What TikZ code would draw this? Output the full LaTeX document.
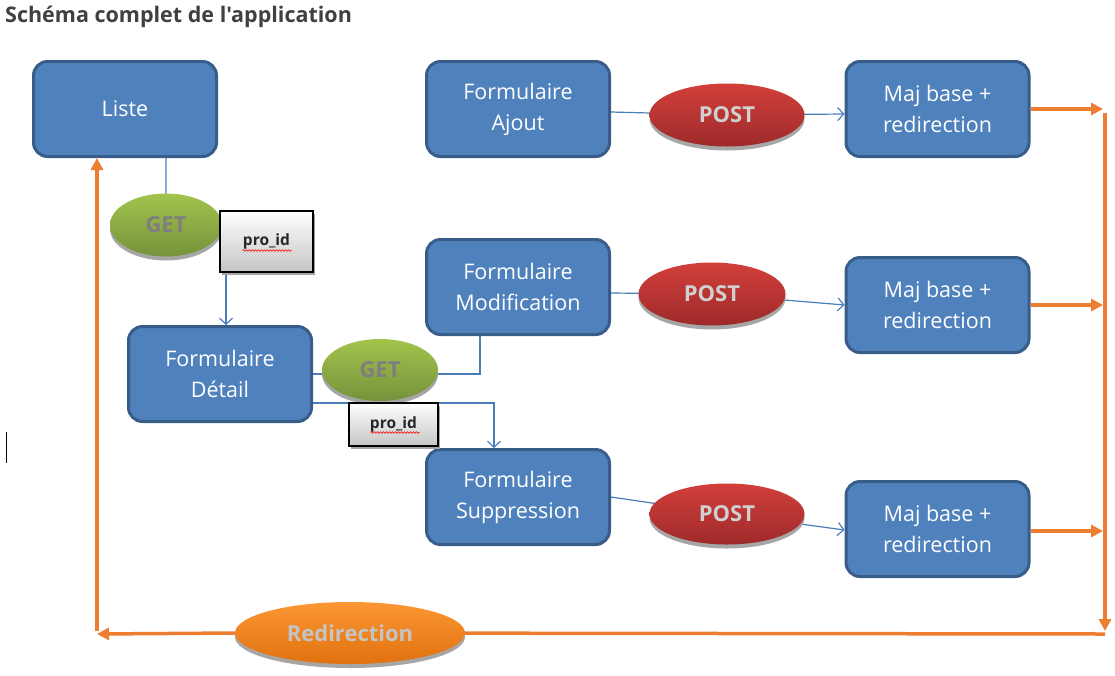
\documentclass[tikz,border=0pt]{standalone}
\usepackage{fontspec}
\setmainfont{Open Sans}
\newfontfamily\plainfont{Open Sans}
\usetikzlibrary{shapes.geometric,arrows.meta,backgrounds,calc,shadows,decorations.pathmorphing}
\definecolor{boxfill}{HTML}{4F81BD}
\definecolor{boxline}{HTML}{385D8A}
\definecolor{linkblue}{HTML}{4A7EBB}
\definecolor{greenA}{HTML}{A2C44C}
\definecolor{greenB}{HTML}{76923C}
\definecolor{redA}{HTML}{D23F3B}
\definecolor{redB}{HTML}{9E2A2A}
\definecolor{orA}{HTML}{FB9733}
\definecolor{orB}{HTML}{E0720F}
\definecolor{orline}{HTML}{ED7D31}
\definecolor{shadowcol}{HTML}{A6A6A6}
\definecolor{titlegray}{HTML}{404040}
\definecolor{getgray}{HTML}{7F7F7F}
\definecolor{postgray}{HTML}{D0D0D0}
\definecolor{redirgray}{HTML}{C4C4C4}
\begin{document}
\begin{tikzpicture}[x=1pt,y=-1pt,
  box/.style={draw=boxline, line width=3pt, fill=boxfill, rounded corners=14pt,
    minimum width=183pt, minimum height=95pt, text=white, align=center, inner sep=0pt,
    font=\fontsize{21.5}{31}\selectfont},
  ell/.style={ellipse, inner sep=0pt, font=\bfseries\fontsize{22}{26}\selectfont,
    drop shadow={shadow xshift=0pt, shadow yshift=-4pt, fill=shadowcol, opacity=1}},
  getell/.style={ell, top color=greenA, bottom color=greenB, text=getgray},
  postell/.style={ell, top color=redA, bottom color=redB, text=postgray},
  redirell/.style={ell, top color=orA, bottom color=orB, text=redirgray},
  pidbox/.style={draw=black, line width=1.2pt, top color=white, bottom color=gray!45,
    inner sep=0pt, font=\bfseries\fontsize{15.5}{18}\selectfont, text=black!85,
    drop shadow={shadow xshift=2pt, shadow yshift=-3pt, fill=shadowcol, opacity=1}},
  link/.style={draw=linkblue, line width=1.2pt},
  linkarrow/.style={link, -{Straight Barb[length=6pt,width=13pt,line width=1.2pt]}},
  orarrow/.style={draw=orline, line width=3.5pt, -{Triangle[length=12pt,width=12pt]}},
  squiggle/.style={draw=red, line width=0.6pt, decorate,
    decoration={snake, amplitude=0.8pt, segment length=3pt}}
]
\useasboundingbox (0,0) rectangle (1115,675);

\node[anchor=base west, inner sep=0pt, text=titlegray,
  font=\plainfont\bfseries\fontsize{21.5}{24}\selectfont] (title) at (5,22) {Schéma complet de l'application};

% boxes
\node[box] (liste) at (125,109) {Liste};
\node[box] (ajout) at (518,109) {Formulaire\\Ajout};
\node[box] (maj1) at (937.5,109) {Maj base +\\redirection};
\node[box] (modif) at (518,287) {Formulaire\\Modification};
\node[box] (maj2) at (937.5,305) {Maj base +\\redirection};
\node[box] (detail) at (220,374) {Formulaire\\Détail};
\node[box] (suppr) at (518,497) {Formulaire\\Suppression};
\node[box] (maj3) at (937.5,529) {Maj base +\\redirection};

% ellipses
\node[getell, minimum width=112pt, minimum height=63pt] (get1) at (166,225) {GET};
\node[getell, minimum width=116pt, minimum height=62pt] (get2) at (380,370) {GET};
\node[postell, minimum width=155pt, minimum height=63pt] (post1) at (727,115) {POST};
\node[postell, minimum width=147pt, minimum height=63pt] (post2) at (712,294) {POST};
\node[postell, minimum width=155pt, minimum height=61pt] (post3) at (727,514) {POST};
\node[redirell, minimum width=230pt, minimum height=62pt] (redir) at (350,633) {Redirection};

% parameter boxes
\node[pidbox, minimum width=93pt, minimum height=61pt] (pid1) at (266.5,241.5) {pro\_id};
\node[pidbox, minimum width=89pt, minimum height=43pt] (pid2) at (393.5,424.5) {pro\_id};
\draw[squiggle] ([xshift=-24pt,yshift=-9pt]pid1.center) -- ++(49,0);
\draw[squiggle] ([xshift=-23pt,yshift=-8pt]pid2.center) -- ++(49,0);

% coordinates for the return loop
\coordinate (tr) at (1105,113);
\coordinate (br) at (1105,634);
\coordinate (bl) at (97,634);

\begin{scope}[on background layer]
  \draw[link] (get1 |- liste.south) -- (get1.center) -- (pid1.center -| 226,0);
  \draw[linkarrow] (pid1.center -| 226,0) -- ([xshift=6pt]detail.north);
  \draw[link] (detail.east) -| ([xshift=-38pt]modif.south);
  \draw[linkarrow] ([yshift=-29pt]detail.east) -| ([xshift=-24pt]suppr.north);
  \draw[link] ([yshift=-3pt]ajout.east) -- (post1.center);
  \draw[linkarrow] (post1.center) -- ([yshift=-5pt]maj1.west);
  \draw[link] ([yshift=-6pt]modif.east) -- (post2.center);
  \draw[linkarrow] (post2.center) -- (maj2.west);
  \draw[link] (suppr.east) -- (post3.center);
  \draw[linkarrow] (post3.center) -- ([yshift=-1pt]maj3.west);
  \draw[draw=orline, line width=3.5pt] (br) -- (redir.center);
\end{scope}

% orange return path
\draw[orarrow] (maj1.east) -- ([xshift=-2pt]maj1.east -| tr);
\draw[orarrow] (maj2.east) -- ([xshift=-2pt]maj2.east -| tr);
\draw[orarrow] ([yshift=-2pt]maj3.east) -- ([xshift=-2pt,yshift=-2pt]maj3.east -| tr);
\draw[orarrow] (tr) -- ([yshift=3pt]br);
\draw[orarrow] (redir.west) -- (bl);
\draw[orarrow] ([yshift=3pt]bl) -- ([xshift=-28pt]liste.south);

% text cursor mark
\draw[line width=0.8pt] (6,432) -- (6,463);
\end{tikzpicture}
\end{document}
